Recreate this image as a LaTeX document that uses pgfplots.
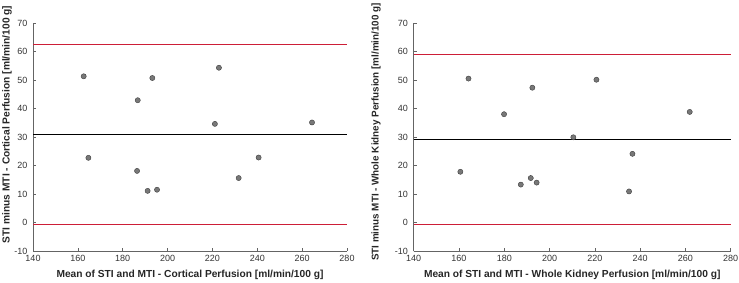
\documentclass[border=0pt]{standalone}
\usepackage{pgfplots}
\pgfplotsset{compat=1.18}
\usepackage{fontspec}
\setmainfont{Liberation Sans}
\definecolor{axgray}{RGB}{100,100,100}
\definecolor{lored}{RGB}{205,30,55}
\definecolor{mkfill}{RGB}{120,120,120}
\definecolor{mkedge}{RGB}{60,60,60}
\pgfplotsset{
  baplot/.style={
    scale only axis,
    anchor=south west,
    height=228pt,
    xmin=140, xmax=280, ymin=-10, ymax=70,
    xtick={140,160,...,280}, ytick={-10,0,...,70},
    axis x line*=bottom, axis y line*=left,
    axis line style={axgray, line width=0.6pt, -},
    tick style={axgray, line width=0.5pt},
    tick align=inside,
    major tick length=3pt,
    /pgf/number format/assume math mode=true,
    tick label style={font=\fontsize{9}{10}\selectfont, text=black!80},
    xticklabel style={inner sep=0pt, yshift=-4.5pt},
    yticklabel style={inner sep=0pt, xshift=-5.5pt},
    label style={font=\bfseries\fontsize{10.2}{12}\selectfont, text=black!85},
    xlabel style={at={(axis description cs:0.5,-0.105)}, anchor=center},
    clip=false,
  },
  pts/.style={only marks, mark=*, mark size=2.6pt, mark options={fill=mkfill, draw=mkedge, line width=0.4pt}},
}
\begin{document}
\begin{tikzpicture}
\begin{axis}[baplot, at={(33pt,31pt)}, width=314pt,
  xlabel={Mean of STI and MTI - Cortical Perfusion [ml/min/100 g]},
  ylabel={STI minus MTI - Cortical Perfusion [ml/min/100 g]},
  ylabel style={at={(axis description cs:-0.083,0.555)}, anchor=center}]
\addplot[lored, line width=0.8pt] coordinates {(140,62.4) (280,62.4)};
\addplot[black, line width=0.8pt] coordinates {(140,30.8) (280,30.8)};
\addplot[lored, line width=0.8pt] coordinates {(140,-0.66) (280,-0.66)};
\addplot[pts] coordinates {
(162.6,51.3) (164.7,22.7) (186.7,42.9) (186.4,18.1) (193.2,50.7) (191.1,11.1)
(195.3,11.5) (222.9,54.3) (221.1,34.6) (231.7,15.6) (240.6,22.8) (264.4,35.1)};
\end{axis}
\begin{axis}[baplot, at={(413.7pt,31pt)}, width=317pt,
  xlabel={Mean of STI and MTI - Whole Kidney Perfusion [ml/min/100 g]},
  ylabel={STI minus MTI - Whole Kidney Perfusion [ml/min/100 g]},
  ylabel style={at={(axis description cs:-0.119,0.522)}, anchor=center, font=\bfseries\fontsize{9.85}{12}\selectfont}]
\addplot[lored, line width=0.8pt] coordinates {(140,59.0) (280,59.0)};
\addplot[black, line width=0.8pt] coordinates {(140,29.1) (280,29.1)};
\addplot[lored, line width=0.8pt] coordinates {(140,-0.7) (280,-0.7)};
\addplot[pts] coordinates {
(164.2,50.5) (160.6,17.8) (179.9,38.0) (187.3,13.3) (191.7,15.6) (194.3,14.0)
(192.4,47.3) (210.5,29.9) (220.7,50.1) (235.1,10.9) (236.6,24.1) (261.9,38.8)};
\end{axis}
\pgfresetboundingbox
\path[use as bounding box] (0,0) rectangle (739pt,282pt);
\end{tikzpicture}
\end{document}
